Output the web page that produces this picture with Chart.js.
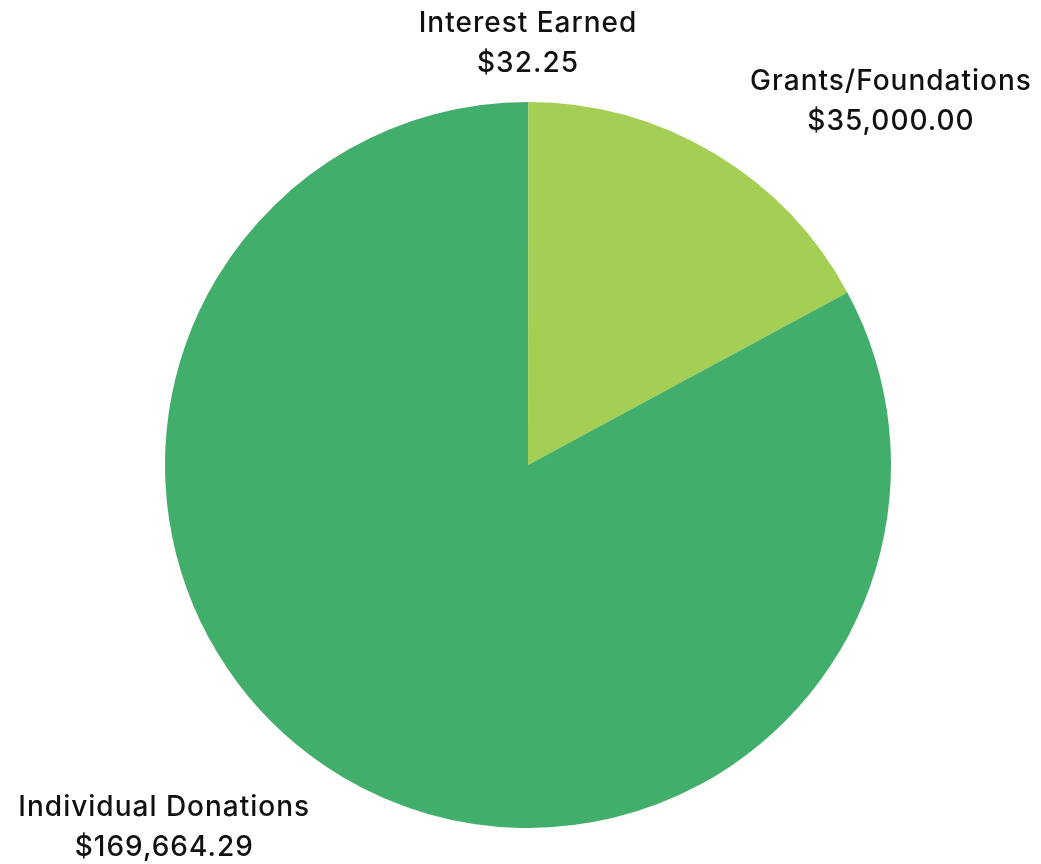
<!DOCTYPE html>
<html>
<head>
<meta charset="utf-8">
<style>
  html, body { margin: 0; padding: 0; background: #fff; }
  #wrap { width: 1041px; height: 864px; }
</style>
</head>
<body>
<div id="wrap"><canvas id="pieChart" width="1041" height="864"></canvas></div>
<script src="https://cdn.jsdelivr.net/npm/chart.js"></script>
<script>
    var labels = ['Interest Earned', 'Grants/Foundations', 'Individual Donations'];
    var amounts = [32.25, 35000.00, 169664.29];
    var colors = ['#3A9E63', '#A5CE54', '#42AE6B'];

    // where each label block sits, relative to pie centre, in radius units
    var labelSpots = [[0, -1.16], [1.0, -1.0], [-1.002, 1.0]];

    function money(v) {
        return '$' + v.toLocaleString('en-US', { minimumFractionDigits: 2, maximumFractionDigits: 2 });
    }

    var outsideLabels = {
        id: 'outsideLabels',
        afterDraw: function (chart) {
            var ctx = chart.ctx;
            var arcs = chart.getDatasetMeta(0).data;
            ctx.save();
            ctx.fillStyle = '#111';
            ctx.textAlign = 'center';
            ctx.textBaseline = 'middle';
            ctx.font = '500 28px Inter';
            if ('letterSpacing' in ctx) ctx.letterSpacing = '1px';
            arcs.forEach(function (arc, i) {
                var r = arc.outerRadius;
                var x = arc.x + labelSpots[i][0] * r;
                var y = arc.y + labelSpots[i][1] * r;
                ctx.fillText(labels[i], x, y - 20);
                ctx.fillText(money(amounts[i]), x, y + 20);
            });
            ctx.restore();
        }
    };

    var ctx = document.getElementById('pieChart').getContext('2d');
    var myPieChart = new Chart(ctx, {
        type: 'pie',
        data: {
            labels: labels,
            datasets: [{
                data: amounts,
                backgroundColor: colors,
                borderWidth: 0
            }]
        },
        options: {
            responsive: false,
            maintainAspectRatio: false,
            animation: false,
            layout: { padding: { top: 102, bottom: 36, left: 165, right: 150 } },
            plugins: {
                legend: { display: false },
                tooltip: { enabled: false }
            }
        },
        plugins: [outsideLabels]
    });
</script>
</body>
</html>
